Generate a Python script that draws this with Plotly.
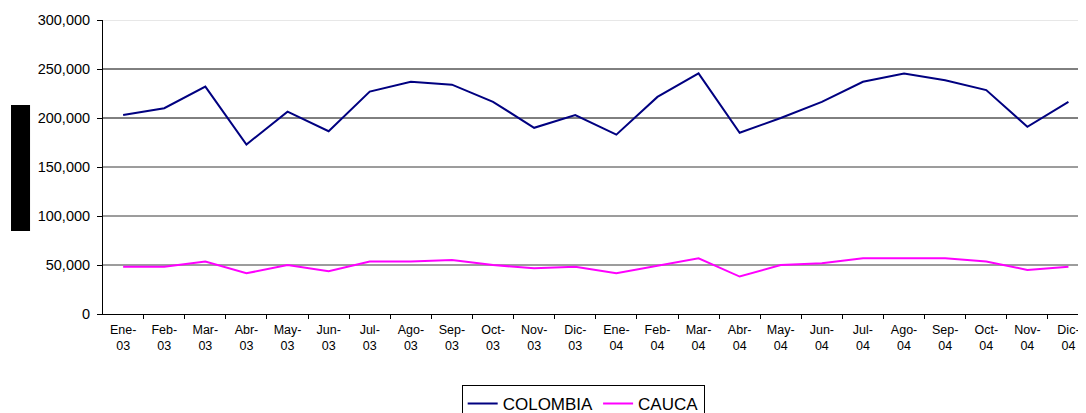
import plotly.graph_objects as go

months = ["Ene-", "Feb-", "Mar-", "Abr-", "May-", "Jun-", "Jul-", "Ago-", "Sep-", "Oct-", "Nov-", "Dic-"]
categories = [m + "<br>" + y for y in ["03", "04"] for m in months]

colombia = [203000, 210000, 232000, 173000, 206500, 186500, 227000, 237000, 234000, 216500, 190000, 203000,
            183000, 221500, 245500, 185000, 200000, 216500, 237000, 245500, 238500, 228500, 191000, 216500]
cauca = [48300, 48300, 53500, 41500, 50000, 43600, 53500, 53500, 55000, 50000, 46600, 48300,
         41500, 49000, 56800, 38200, 50000, 51700, 56800, 56800, 56800, 53500, 45000, 48300]

y_ticks = [0, 50000, 100000, 150000, 200000, 250000, 300000]
grid_colors = ["#000000", "#3a3a3a", "#3a3a3a", "#3a3a3a", "#000000", "#000000", "#d0d0d0"]

fig = go.Figure()
fig.add_trace(go.Scatter(x=categories, y=colombia, name="COLOMBIA", mode="lines",
                         line=dict(color="#000080", width=2)))
fig.add_trace(go.Scatter(x=categories, y=cauca, name="CAUCA", mode="lines",
                         line=dict(color="#FF00FF", width=2)))

shapes = []
for v, c in zip(y_ticks[1:], grid_colors[1:]):
    shapes.append(dict(type="line", xref="paper", yref="y", x0=0, x1=1, y0=v, y1=v,
                       line=dict(color=c, width=1), layer="below"))
# black box at left (obscured axis title)
shapes.append(dict(type="rect", xref="paper", yref="paper", x0=-0.0933, x1=-0.074,
                   y0=0.282, y1=0.711, fillcolor="black", line=dict(width=0)))

fig.update_layout(
    width=1086, height=413,
    margin=dict(l=95, r=5, t=12, b=107, autoexpand=False),
    paper_bgcolor="white", plot_bgcolor="white",
    font=dict(family="Liberation Sans, Arial, sans-serif", color="black"),
    shapes=shapes,
    showlegend=True,
    legend=dict(orientation="h", x=0.487, xanchor="center", y=-0.2415, yanchor="top",
                bordercolor="black", borderwidth=1, font=dict(size=17),
                itemwidth=30, tracegroupgap=0),
    xaxis=dict(type="category", range=[-0.49, 23.5], showgrid=False, automargin=False,
               showline=True, linecolor="black", linewidth=1,
               ticks="outside", ticklen=4, tickcolor="black", tickson="boundaries",
               tickfont=dict(size=12.5), tickangle=0, ticklabelstandoff=4),
    yaxis=dict(range=[0, 300000], tickvals=y_ticks, tickformat=",", showgrid=False, automargin=False,
               showline=True, linecolor="black", linewidth=1, zeroline=False,
               ticks="outside", ticklen=5, tickcolor="black",
               tickfont=dict(size=14.5), ticklabelstandoff=4),
)

fig.write_html("out.html")
